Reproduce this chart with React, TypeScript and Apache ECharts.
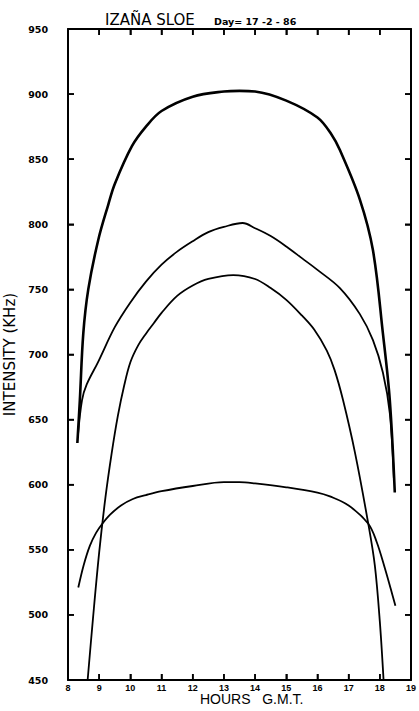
import React, { useEffect, useRef } from "react";
import * as echarts from "echarts";

const xTicks = [8, 9, 10, 11, 12, 13, 14, 15, 16, 17, 18, 19];
const yTicks = [450, 500, 550, 600, 650, 700, 750, 800, 850, 900, 950];

const curveA: [number, number][] = [
  [8.3, 632], [8.38, 665], [8.49, 716], [8.65, 750], [8.97, 788], [9.29, 815],
  [9.5, 831], [10.05, 860], [10.5, 875], [11, 887], [12, 898], [13, 902],
  [13.5, 902.5], [14, 902], [15, 895], [16, 882], [16.45, 869], [16.72, 857],
  [17.36, 819], [17.78, 780], [18.1, 716], [18.32, 665], [18.48, 594],
];
const curveB: [number, number][] = [
  [8.32, 638], [8.45, 665], [8.6, 677], [8.96, 694], [9.5, 721], [10, 740],
  [10.5, 756], [11, 769], [11.5, 779], [12, 787], [12.5, 794], [13, 798],
  [13.6, 801], [14, 797], [14.5, 791], [15, 783], [15.5, 774], [16, 765],
  [16.72, 751], [17.36, 731], [17.78, 711], [18.1, 686], [18.32, 655], [18.45, 605],
];
const curveC: [number, number][] = [
  [8.63, 450], [8.8, 497], [9.0, 548], [9.2, 590], [9.4, 624], [9.6, 653],
  [9.8, 676], [10.0, 694], [10.25, 707], [10.5, 716], [10.75, 724], [11, 732],
  [11.5, 745], [12, 753], [12.5, 758], [13.3, 761], [14, 758], [14.5, 751],
  [15, 742], [15.5, 730], [15.9, 719], [16.3, 703], [16.55, 688], [16.82, 665],
  [17.2, 625], [17.63, 570], [17.84, 538], [18.0, 495], [18.12, 450],
];
const curveD: [number, number][] = [
  [8.33, 521], [8.5, 538], [8.7, 553], [8.9, 563], [9.1, 570], [9.35, 577],
  [9.7, 584], [10.08, 589], [10.5, 592], [11, 595], [12, 599], [13, 602],
  [13.5, 602], [14, 601], [15, 598], [16, 594], [16.4, 591], [17, 584],
  [17.63, 570], [17.9, 556], [18.16, 536], [18.35, 520], [18.5, 507],
];

const X_MIN = 8;
const X_MAX = 19;
const Y_MIN = 450;
const Y_MAX = 950;

const FONT = "Liberation Sans";
const YFONT = "DejaVu Sans";

export default function App() {
  const ref = useRef<HTMLDivElement>(null);
  useEffect(() => {
    if (!ref.current) return;
    const chart = echarts.init(ref.current, null, { renderer: "svg" });
    const axisLine = { show: true, onZero: false, lineStyle: { color: "#000", width: 2 } };
    const tick = { show: true, inside: true, length: 6, lineStyle: { color: "#000", width: 1.5 } };
    const mkLine = (data: [number, number][], w: number) => ({
      type: "line",
      data,
      showSymbol: false,
      smooth: 0.35,
      lineStyle: { color: "#000", width: w },
      z: 1,
    });
    const baseGraphic: any[] = [
      {
        type: "text",
        left: 200,
        top: 692,
        style: { text: "HOURS   G.M.T.", fontFamily: FONT, fontSize: 14, fill: "#000" },
      },
    ];
    chart.setOption({
      animation: false,
      backgroundColor: "#fff",
      grid: { left: 68, right: 8, top: 29, bottom: 31, containLabel: false, outerBoundsMode: "none" },
      title: [
        {
          text: "IZAÑA SLOE",
          left: 100,
          top: 7,
          textStyle: { fontFamily: YFONT, fontSize: 15, fontWeight: "normal", color: "#000" },
        },
        {
          text: "Day= 17 -2 - 86",
          left: 209,
          top: 11,
          textStyle: { fontFamily: YFONT, fontSize: 9.5, fontWeight: "bold", color: "#000" },
        },
      ],
      graphic: baseGraphic,
      xAxis: [
        {
          type: "value",
          min: X_MIN,
          max: X_MAX,
          interval: 1,
          position: "bottom",
          axisLine,
          axisTick: tick,
          splitLine: { show: false },
          axisLabel: {
            fontFamily: FONT,
            fontSize: 9,
            fontWeight: "bold",
            color: "#000",
            margin: 3,
            formatter: (v: number) => (xTicks.includes(v) ? String(v) : ""),
          },
        },
        {
          type: "value",
          min: X_MIN,
          max: X_MAX,
          interval: 1,
          position: "top",
          axisLine,
          axisTick: tick,
          splitLine: { show: false },
          axisLabel: { show: false },
        },
      ],
      yAxis: [
        {
          type: "value",
          min: Y_MIN,
          max: Y_MAX,
          interval: 50,
          position: "left",
          axisLine,
          axisTick: tick,
          splitLine: { show: false },
          axisLabel: {
            fontFamily: YFONT,
            fontSize: 9.5,
            fontWeight: "bold",
            color: "#000",
            margin: 20,
            formatter: (v: number) => (yTicks.includes(v) ? String(v) : ""),
          },
          name: "INTENSITY (KHz)",
          nameLocation: "middle",
          nameGap: 44,
          nameRotate: 90,
          nameTextStyle: { fontFamily: YFONT, fontSize: 15, color: "#000" },
        },
        {
          type: "value",
          min: Y_MIN,
          max: Y_MAX,
          interval: 50,
          position: "right",
          axisLine,
          axisTick: tick,
          splitLine: { show: false },
          axisLabel: { show: false },
        },
      ],
      series: [
        mkLine(curveA, 2.6),
        mkLine(curveB, 1.8),
        mkLine(curveC, 1.8),
        mkLine(curveD, 1.8),
      ],
    });

    // Tick marks placed through the chart's own scales
    const TL = 6;
    const TW = 1.6;
    const ticks: any[] = [];
    xTicks.forEach((v) => {
      const b = chart.convertToPixel({ gridIndex: 0 }, [v, Y_MIN]) as number[];
      const t = chart.convertToPixel({ gridIndex: 0 }, [v, Y_MAX]) as number[];
      if (!b || !t) return;
      ticks.push({ type: "rect", z: 100, shape: { x: b[0] - TW / 2, y: b[1] - TL, width: TW, height: TL }, style: { fill: "#000" } });
      ticks.push({ type: "rect", z: 100, shape: { x: t[0] - TW / 2, y: t[1], width: TW, height: TL }, style: { fill: "#000" } });
    });
    yTicks.forEach((v) => {
      const l = chart.convertToPixel({ gridIndex: 0 }, [X_MIN, v]) as number[];
      const r = chart.convertToPixel({ gridIndex: 0 }, [X_MAX, v]) as number[];
      if (!l || !r) return;
      ticks.push({ type: "rect", z: 100, shape: { x: l[0], y: l[1] - TW / 2, width: TL, height: TW }, style: { fill: "#000" } });
      ticks.push({ type: "rect", z: 100, shape: { x: r[0] - TL, y: r[1] - TW / 2, width: TL, height: TW }, style: { fill: "#000" } });
    });
    chart.setOption({ graphic: [...baseGraphic, ...ticks] });

    return () => chart.dispose();
  }, []);
  return (
    <div
      ref={ref}
      style={{ position: "fixed", left: 0, top: 0, width: 419, height: 711, background: "#fff" }}
    />
  );
}
